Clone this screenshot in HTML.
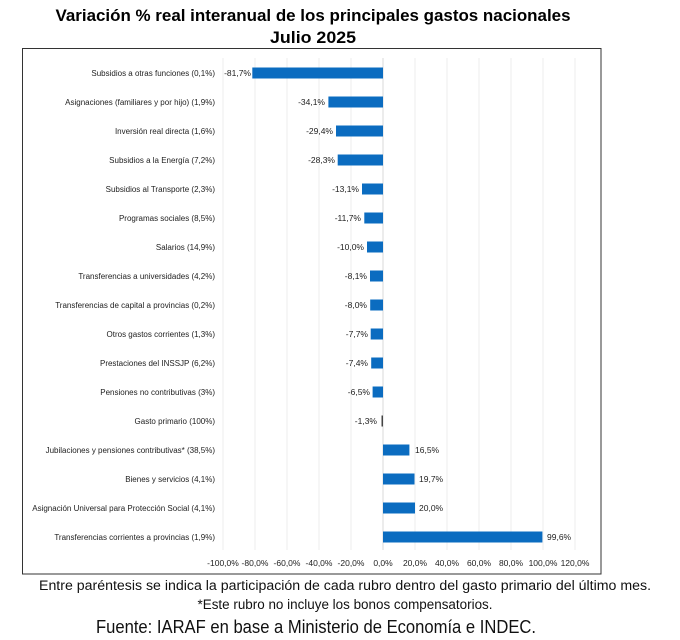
<!DOCTYPE html>
<html><head><meta charset="utf-8"><style>
html,body{margin:0;padding:0;background:#fff;}
svg{display:block;font-family:"Liberation Sans",sans-serif;}
</style></head><body>
<svg width="680" height="640" xmlns="http://www.w3.org/2000/svg">
<text x="313" y="21" text-anchor="middle" font-size="17" font-weight="bold" textLength="515" lengthAdjust="spacingAndGlyphs">Variación % real interanual de los principales gastos nacionales</text>
<text x="313" y="43" text-anchor="middle" font-size="17" font-weight="bold" textLength="86" lengthAdjust="spacingAndGlyphs">Julio 2025</text>
<rect x="22.5" y="48.5" width="578.5" height="525.5" fill="#fff" stroke="#333" stroke-width="1"/>
<g stroke="#eeeeee" stroke-width="1">
<line x1="223" y1="58" x2="223" y2="550"/><line x1="255" y1="58" x2="255" y2="550"/><line x1="287" y1="58" x2="287" y2="550"/><line x1="319" y1="58" x2="319" y2="550"/><line x1="351" y1="58" x2="351" y2="550"/><line x1="415" y1="58" x2="415" y2="550"/><line x1="447" y1="58" x2="447" y2="550"/><line x1="479" y1="58" x2="479" y2="550"/><line x1="511" y1="58" x2="511" y2="550"/><line x1="543" y1="58" x2="543" y2="550"/><line x1="575" y1="58" x2="575" y2="550"/>
</g>
<line x1="383" y1="58" x2="383" y2="550" stroke="#d8d8d8"/>
<g font-size="8" fill="#222" text-anchor="end">
<text x="215" y="76">Subsidios a otras funciones (0,1%)</text>
<text x="215" y="105">Asignaciones (familiares y por hijo) (1,9%)</text>
<text x="215" y="134">Inversión real directa (1,6%)</text>
<text x="215" y="163">Subsidios a la Energía (7,2%)</text>
<text x="215" y="192">Subsidios al Transporte (2,3%)</text>
<text x="215" y="221">Programas sociales (8,5%)</text>
<text x="215" y="250">Salarios (14,9%)</text>
<text x="215" y="279">Transferencias a universidades (4,2%)</text>
<text x="215" y="308">Transferencias de capital a provincias (0,2%)</text>
<text x="215" y="337">Otros gastos corrientes (1,3%)</text>
<text x="215" y="366">Prestaciones del INSSJP (6,2%)</text>
<text x="215" y="395">Pensiones no contributivas (3%)</text>
<text x="215" y="424">Gasto primario (100%)</text>
<text x="215" y="453">Jubilaciones y pensiones contributivas* (38,5%)</text>
<text x="215" y="482">Bienes y servicios (4,1%)</text>
<text x="215" y="511">Asignación Universal para Protección Social (4,1%)</text>
<text x="215" y="540">Transferencias corrientes a provincias (1,9%)</text>
</g>
<g font-size="8.5" fill="#222" text-anchor="end">
<text x="251" y="76">-81,7%</text>
<text x="325" y="105">-34,1%</text>
<text x="333" y="134">-29,4%</text>
<text x="335" y="163">-28,3%</text>
<text x="359" y="192">-13,1%</text>
<text x="361" y="221">-11,7%</text>
<text x="364" y="250">-10,0%</text>
<text x="367" y="279">-8,1%</text>
<text x="367" y="308">-8,0%</text>
<text x="368" y="337">-7,7%</text>
<text x="368" y="366">-7,4%</text>
<text x="370" y="395">-6,5%</text>
<text x="377" y="424">-1,3%</text>
</g>
<g font-size="8.5" fill="#222">
<text x="415" y="453">16,5%</text>
<text x="419" y="482">19,7%</text>
<text x="419" y="511">20,0%</text>
<text x="547" y="540">99,6%</text>
</g>
<g fill="#0b6cc0">
<rect x="252.3" y="67.5" width="130.7" height="11"/>
<rect x="328.4" y="96.5" width="54.6" height="11"/>
<rect x="336" y="125.5" width="47" height="11"/>
<rect x="337.7" y="154.5" width="45.3" height="11"/>
<rect x="362" y="183.5" width="21" height="11"/>
<rect x="364.3" y="212.5" width="18.7" height="11"/>
<rect x="367" y="241.5" width="16" height="11"/>
<rect x="370" y="270.5" width="13" height="11"/>
<rect x="370.2" y="299.5" width="12.8" height="11"/>
<rect x="370.7" y="328.5" width="12.3" height="11"/>
<rect x="371.2" y="357.5" width="11.8" height="11"/>
<rect x="372.6" y="386.5" width="10.4" height="11"/>
<rect x="383" y="444.5" width="26.4" height="11"/>
<rect x="383" y="473.5" width="31.5" height="11"/>
<rect x="383" y="502.5" width="32" height="11"/>
<rect x="383" y="531.5" width="159.4" height="11"/>
</g>
<rect x="381.5" y="415.5" width="1.5" height="11" fill="#444"/>
<g font-size="8.5" fill="#222" text-anchor="middle">
<text x="223" y="566">-100,0%</text><text x="255" y="566">-80,0%</text><text x="287" y="566">-60,0%</text><text x="319" y="566">-40,0%</text><text x="351" y="566">-20,0%</text><text x="383" y="566">0,0%</text><text x="415" y="566">20,0%</text><text x="447" y="566">40,0%</text><text x="479" y="566">60,0%</text><text x="511" y="566">80,0%</text><text x="543" y="566">100,0%</text><text x="575" y="566">120,0%</text>
</g>
<text x="345" y="590" text-anchor="middle" font-size="13.5" fill="#111" textLength="612" lengthAdjust="spacingAndGlyphs">Entre paréntesis se indica la participación de cada rubro dentro del gasto primario del último mes.</text>
<text x="345" y="609" text-anchor="middle" font-size="13.5" fill="#111" textLength="295" lengthAdjust="spacingAndGlyphs">*Este rubro no incluye los bonos compensatorios.</text>
<text x="316" y="633" text-anchor="middle" font-size="18" fill="#111" textLength="440" lengthAdjust="spacingAndGlyphs">Fuente: IARAF en base a Ministerio de Economía e INDEC.</text>
</svg>
</body></html>
